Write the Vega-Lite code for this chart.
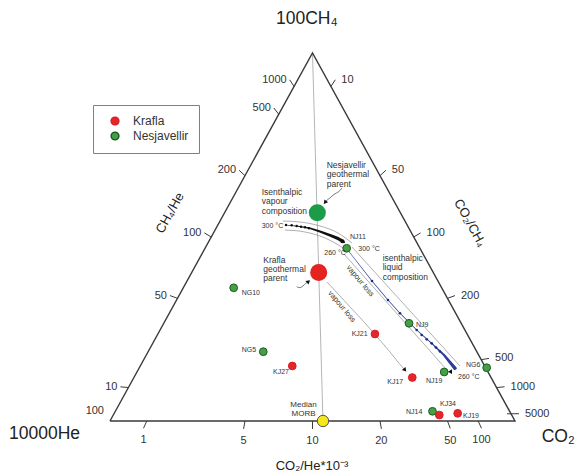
{
 "$schema": "https://vega.github.io/schema/vega-lite/v6.json",
 "width": 578, "height": 476, "padding": 0, "autosize": {"type": "none"},
 "background": "white",
 "config": {"view": {"stroke": null}, "font": "Liberation Sans"},
 "resolve": {"scale": {"size": "independent"}},
 "datasets": {
  "frame": [{"i":0,"x":0,"y":0},{"i":1,"x":50,"y":100},{"i":2,"x":100,"y":0},{"i":3,"x":0,"y":0}],
  "mixing": [{"i":0,"x":50,"y":100},{"i":1,"x":52.59,"y":0}],
  "ticks": [
   {"edge":"left","label":"1000","x":45.45,"y":90.91,"x2":44.37,"y2":92.72},
   {"edge":"left","label":"500","x":41.67,"y":83.33,"x2":40.47,"y2":85.05},
   {"edge":"left","label":"200","x":33.33,"y":66.67,"x2":31.88,"y2":68.13},
   {"edge":"left","label":"100","x":25,"y":50,"x2":23.31,"y2":51.11},
   {"edge":"left","label":"50","x":16.67,"y":33.33,"x2":14.81,"y2":34.08},
   {"edge":"left","label":"10","x":4.55,"y":9.09,"x2":2.57,"y2":9.29},
   {"edge":"left","label":"100","x":-0.74,"y":2.72,"x2":-0.74,"y2":2.72},
   {"edge":"right","label":"10","x":54.55,"y":90.91,"x2":55.63,"y2":92.72},
   {"edge":"right","label":"50","x":66.67,"y":66.67,"x2":68.12,"y2":68.13},
   {"edge":"right","label":"100","x":75,"y":50,"x2":76.69,"y2":51.11},
   {"edge":"right","label":"200","x":83.33,"y":33.33,"x2":85.19,"y2":34.08},
   {"edge":"right","label":"500","x":91.67,"y":16.67,"x2":93.6,"y2":17.01},
   {"edge":"right","label":"1000","x":95.45,"y":9.09,"x2":97.43,"y2":9.29},
   {"edge":"right","label":"5000","x":98.04,"y":1.96,"x2":100.99,"y2":1.98},
   {"edge":"bottom","label":"1","x":9.09,"y":0,"x2":8.27,"y2":-1.98},
   {"edge":"bottom","label":"5","x":33.33,"y":0,"x2":32.99,"y2":-2.15},
   {"edge":"bottom","label":"10","x":50,"y":0,"x2":50,"y2":-2.17},
   {"edge":"bottom","label":"20","x":66.67,"y":0,"x2":67.01,"y2":-2.15},
   {"edge":"bottom","label":"50","x":83.33,"y":0,"x2":84.02,"y2":-2.04},
   {"edge":"bottom","label":"100","x":90.91,"y":0,"x2":91.73,"y2":-1.98}
  ],
  "guides": [
   {"path":"A","i":0,"x":42.72,"y":54.35},{"path":"A","i":1,"x":46.91,"y":54.08},{"path":"A","i":2,"x":51.85,"y":52.99},{"path":"A","i":3,"x":56.3,"y":51.09},{"path":"A","i":4,"x":59.75,"y":48.37},
   {"path":"B","i":0,"x":43.21,"y":51.9},{"path":"B","i":1,"x":48.15,"y":51.36},{"path":"B","i":2,"x":53.09,"y":49.73},{"path":"B","i":3,"x":58.02,"y":46.74},
   {"path":"C","i":0,"x":57.78,"y":45.38},{"path":"C","i":1,"x":83.21,"y":13.86},
   {"path":"D","i":0,"x":59.75,"y":47.28},{"path":"D","i":1,"x":86.42,"y":14.95},
   {"path":"E","i":0,"x":53.58,"y":37.77},{"path":"E","i":1,"x":56.79,"y":33.97},{"path":"E","i":2,"x":59.75,"y":30.43},{"path":"E","i":3,"x":62.96,"y":26.63},{"path":"E","i":4,"x":66.17,"y":22.55},{"path":"E","i":5,"x":69.14,"y":18.75},{"path":"E","i":6,"x":71.11,"y":16.03},{"path":"E","i":7,"x":72.59,"y":14.13}
  ],
  "squiggles": [
   {"path":"F","i":0,"x":57.28,"y":63.32},{"path":"F","i":1,"x":56.54,"y":62.23},{"path":"F","i":2,"x":55.31,"y":61.68},{"path":"F","i":3,"x":54.32,"y":60.6},{"path":"F","i":4,"x":53.33,"y":59.78},
   {"path":"G","i":0,"x":46.1,"y":36.49},{"path":"G","i":1,"x":46.91,"y":36.06},{"path":"G","i":2,"x":47.65,"y":36.68},{"path":"G","i":3,"x":48.4,"y":37.5},{"path":"G","i":4,"x":48.89,"y":37.77}
  ],
  "vapour": [
   {"i":0,"x":43.46,"y":53.26,"T":300},{"i":1,"x":46.91,"y":52.85,"T":296},{"i":2,"x":49.38,"y":52.36,"T":290},{"i":3,"x":51.85,"y":51.49,"T":282},{"i":4,"x":54.32,"y":50.46,"T":273},{"i":5,"x":56.3,"y":49.59,"T":265},{"i":6,"x":57.53,"y":48.78,"T":260}
  ],
  "vapourdots": [
   {"x":43.46,"y":53.26},{"x":44.86,"y":53.18},{"x":46.1,"y":52.99},{"x":47.16,"y":52.8},{"x":48.15,"y":52.64},{"x":49.14,"y":52.36}
  ],
  "liquid": [
   {"i":0,"x":58.52,"y":46.74,"T":300},{"i":1,"x":64.69,"y":38.04,"T":292},{"i":2,"x":68.64,"y":32.88,"T":288},{"i":3,"x":71.6,"y":29.27,"T":285},{"i":4,"x":75.73,"y":24.73,"T":280},{"i":5,"x":79.43,"y":21.11,"T":275},{"i":6,"x":82.47,"y":17.93,"T":268},{"i":7,"x":85.19,"y":14.32,"T":260}
  ],
  "liquiddots": [
   {"x":64.69,"y":38.04},{"x":68.64,"y":32.88},{"x":71.6,"y":29.27},{"x":75.73,"y":24.73},{"x":76.96,"y":23.37},{"x":78.2,"y":22.2},{"x":79.43,"y":21.11},{"x":80.49,"y":19.97},{"x":81.48,"y":18.89}
  ],
  "samples": [
   {"site":"Nesjavellir","label":"NG10","x":30.54,"y":36.2},
   {"site":"Nesjavellir","label":"NG5","x":37.85,"y":18.83},
   {"site":"Nesjavellir","label":"NJ11","x":58.44,"y":46.93},
   {"site":"Nesjavellir","label":"NJ9","x":73.83,"y":26.55},
   {"site":"Nesjavellir","label":"NJ19","x":82.52,"y":13.32},
   {"site":"Nesjavellir","label":"NG6","x":93.01,"y":14.48},
   {"site":"Nesjavellir","label":"NJ14","x":79.63,"y":2.64},
   {"site":"Krafla","label":"KJ27","x":45.01,"y":14.95},
   {"site":"Krafla","label":"KJ21","x":65.43,"y":23.64},
   {"site":"Krafla","label":"KJ17","x":74.64,"y":11.82},
   {"site":"Krafla","label":"KJ34","x":81.31,"y":1.63},
   {"site":"Krafla","label":"KJ19","x":85.85,"y":2.09}
  ],
  "parents": [
   {"site":"Krafla","x":51.53,"y":40.35},
   {"site":"Nesjavellir","x":51.19,"y":56.6}
  ],
  "morb": [{"name":"Median MORB","x":52.59,"y":0}],
  "labels": [
   {"text":"NG10","x":32.52,"y":34.86},{"text":"NG5","x":32.52,"y":19.29},{"text":"KJ27","x":40.25,"y":13.4},
   {"text":"KJ21","x":59.68,"y":23.64},{"text":"KJ17","x":68.47,"y":10.52},{"text":"NJ9","x":75.56,"y":26.09},
   {"text":"NJ19","x":78.02,"y":10.95},{"text":"NJ11","x":59.26,"y":49.92},{"text":"NG6","x":87.9,"y":15.22},
   {"text":"NJ14","x":73.09,"y":2.58},{"text":"KJ34","x":81.48,"y":4.62},{"text":"KJ19","x":87.16,"y":1.44},
   {"text":"300 °C","x":37.46,"y":52.99},{"text":"300 °C","x":61.31,"y":46.66},
   {"text":"260 °C","x":52.91,"y":45.57},{"text":"260 °C","x":85.93,"y":12.04}
  ],
  "notes": [
   {"text":"Nesjavellir\ngeothermal\nparent","x":53.51,"y":70.65},
   {"text":"Isenthalpic\nvapour\ncomposition","x":37.46,"y":63.32},
   {"text":"isenthalpic\nliquid\ncomposition","x":67.33,"y":45.38},
   {"text":"Krafla\ngeothermal\nparent","x":37.85,"y":44.97}
  ],
  "morbnote": [{"text":"Median\nMORB","x":47.78,"y":5.3}],
  "corners": [
   {"text":"100CH₄","x":40.99,"y":109.24},
   {"text":"10000He","x":-24.94,"y":-3.61},
   {"text":"CO₂","x":106.6,"y":-4.35}
  ],
  "vaplabels": [
   {"text":"vapour loss","x":61.73,"y":38.04},
   {"text":"vapour loss","x":57.21,"y":31.06}
  ]
 },
 "encoding": {
  "x": {"field":"x","type":"quantitative","scale":{"domain":[-27.16,115.56],"nice":false,"zero":false},"axis":null},
  "y": {"field":"y","type":"quantitative","scale":{"domain":[-14.946,114.402],"nice":false,"zero":false},"axis":null}
 },
 "layer": [
  {"data":{"name":"mixing"},"mark":{"type":"line","color":"#b5b5b5","strokeWidth":1},"encoding":{"order":{"field":"i"}}},
  {"data":{"name":"frame"},"mark":{"type":"line","color":"#3a3a3a","strokeWidth":1.4,"strokeJoin":"miter"},"encoding":{"order":{"field":"i"}}},
  {"data":{"name":"ticks"},"mark":{"type":"rule","color":"#3a3a3a","strokeWidth":1},"encoding":{"x2":{"field":"x2"},"y2":{"field":"y2"}}},
  {"data":{"name":"ticks"},"transform":[{"filter":"datum.edge==='left'"}],"mark":{"type":"text","align":"right","baseline":"middle","dx":-3,"fontSize":11,"color":"#333"},
   "encoding":{"x":{"field":"x2","type":"quantitative","axis":null},"y":{"field":"y2","type":"quantitative","axis":null},"text":{"field":"label"}}},
  {"data":{"name":"ticks"},"transform":[{"filter":"datum.edge==='right'"}],"mark":{"type":"text","align":"left","baseline":"middle","dx":6,"fontSize":11,"color":"#333"},
   "encoding":{"x":{"field":"x2","type":"quantitative","axis":null},"y":{"field":"y2","type":"quantitative","axis":null},"text":{"field":"label"}}},
  {"data":{"name":"ticks"},"transform":[{"filter":"datum.edge==='bottom'"}],"mark":{"type":"text","align":"center","baseline":"middle","dy":12,"fontSize":11,"color":"#333"},
   "encoding":{"x":{"field":"x2","type":"quantitative","axis":null},"y":{"field":"y2","type":"quantitative","axis":null},"text":{"field":"label"}}},
  {"data":{"name":"guides"},"mark":{"type":"line","color":"#9c9c9c","strokeWidth":0.8,"interpolate":"monotone"},"encoding":{"detail":{"field":"path"},"order":{"field":"i"}}},
  {"data":{"name":"squiggles"},"mark":{"type":"line","color":"#555","strokeWidth":0.8,"interpolate":"basis"},"encoding":{"detail":{"field":"path"},"order":{"field":"i"}}},
  {"data":{"name":"vapour"},"mark":{"type":"trail","color":"#111"},"encoding":{"order":{"field":"i"},"size":{"field":"T","type":"quantitative","scale":{"domain":[300,290,260],"range":[0.4,1.6,3.4]},"legend":null}}},
  {"data":{"name":"liquid"},"mark":{"type":"trail","color":"#2a3d98"},"encoding":{"order":{"field":"i"},"size":{"field":"T","type":"quantitative","scale":{"domain":[300,276,260],"range":[0.5,0.9,3.4]},"legend":null}}},
  {"data":{"name":"vapourdots"},"mark":{"type":"point","filled":true,"color":"#111","size":6,"opacity":1}},
  {"data":{"name":"liquiddots"},"mark":{"type":"point","filled":true,"color":"#1b2a7a","size":7,"opacity":1}},
  {"data":{"values":[{"x":53.09,"y":59.38}]},"mark":{"type":"point","shape":"triangle-up","filled":true,"color":"#111","size":22,"angle":218,"opacity":1}},
  {"data":{"values":[{"x":49.01,"y":37.91}]},"mark":{"type":"point","shape":"triangle-up","filled":true,"color":"#111","size":22,"angle":48,"opacity":1}},
  {"data":{"values":[{"x":57.65,"y":48.64}]},"mark":{"type":"point","shape":"triangle-up","filled":true,"color":"#111","size":22,"angle":122,"opacity":1}},
  {"data":{"values":[{"x":72.84,"y":13.86}]},"mark":{"type":"point","shape":"triangle-up","filled":true,"color":"#111","size":22,"angle":140,"opacity":1}},
  {"data":{"values":[{"x":83.95,"y":13.4}]},"mark":{"type":"point","shape":"triangle-up","filled":true,"color":"#111","size":22,"angle":270,"opacity":1}},
  {"data":{"name":"parents"},"transform":[{"filter":"datum.site==='Krafla'"}],"mark":{"type":"circle","color":"#e5231f","size":290,"opacity":1}},
  {"data":{"name":"parents"},"transform":[{"filter":"datum.site==='Nesjavellir'"}],"mark":{"type":"circle","color":"#1c9c48","size":290,"opacity":1}},
  {"data":{"name":"samples"},"mark":{"type":"point","shape":"circle","filled":true,"size":60,"strokeWidth":1,"opacity":1},
   "encoding":{
    "fill":{"field":"site","type":"nominal","scale":{"domain":["Krafla","Nesjavellir"],"range":["#e3262b","#43a043"]},
     "legend":{"title":null,"orient":"none","legendX":93,"legendY":105,"strokeColor":"#808080","fillColor":"white","padding":10,"symbolSize":60,"symbolType":"circle","labelFontSize":12,"labelColor":"#333","labelFont":"Liberation Sans","symbolOffset":6,"labelOffset":12,"rowPadding":1}},
    "stroke":{"field":"site","type":"nominal","scale":{"domain":["Krafla","Nesjavellir"],"range":["#d81f24","#1f5a26"]},
     "legend":{"title":null,"orient":"none","legendX":93,"legendY":105,"strokeColor":"#808080","fillColor":"white","padding":10,"symbolSize":60,"symbolType":"circle","labelFontSize":12,"labelColor":"#333","labelFont":"Liberation Sans","symbolOffset":6,"labelOffset":12,"rowPadding":1}}
   }},
  {"data":{"name":"morb"},"mark":{"type":"point","shape":"circle","filled":true,"fill":"#f6e71c","stroke":"#555","strokeWidth":1,"size":130,"opacity":1}},
  {"data":{"name":"labels"},"mark":{"type":"text","align":"left","baseline":"middle","fontSize":7,"color":"#333"},"encoding":{"text":{"field":"text"}}},
  {"data":{"name":"notes"},"mark":{"type":"text","align":"left","baseline":"top","fontSize":8.5,"lineHeight":9.3,"lineBreak":"\n","color":"#333"},"encoding":{"text":{"field":"text"}}},
  {"data":{"name":"morbnote"},"mark":{"type":"text","align":"center","baseline":"top","fontSize":8,"lineHeight":9,"lineBreak":"\n","color":"#333"},"encoding":{"text":{"field":"text"}}},
  {"data":{"name":"vaplabels"},"mark":{"type":"text","align":"center","baseline":"middle","fontSize":7.5,"angle":50,"color":"#333"},"encoding":{"text":{"field":"text"}}},
  {"data":{"name":"corners"},"mark":{"type":"text","align":"left","baseline":"middle","fontSize":17.5,"color":"#222"},"encoding":{"text":{"field":"text"}}},
  {"data":{"values":[{"text":"CH₄/He","x":14.81,"y":56.52}]},"mark":{"type":"text","align":"center","baseline":"middle","fontSize":13,"angle":-61,"color":"#222"},"encoding":{"text":{"field":"text"}}},
  {"data":{"values":[{"text":"CO₂/CH₄","x":88.89,"y":53.8}]},"mark":{"type":"text","align":"center","baseline":"middle","fontSize":13,"angle":61,"color":"#222"},"encoding":{"text":{"field":"text"}}},
  {"data":{"values":[{"text":"CO₂/He*10⁻³","x":49.88,"y":-12.23}]},"mark":{"type":"text","align":"center","baseline":"middle","fontSize":13,"color":"#222"},"encoding":{"text":{"field":"text"}}}
 ]
}
